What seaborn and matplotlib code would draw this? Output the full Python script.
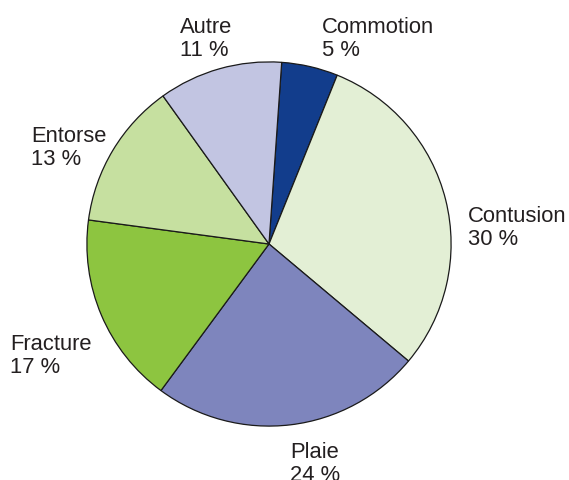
import matplotlib
matplotlib.use("Agg")
import matplotlib.pyplot as plt
import seaborn as sns

# données (pourcentages)
categories = ["Commotion", "Contusion", "Plaie", "Fracture", "Entorse", "Autre"]
values = [5, 30, 24, 17, 13, 11]
colors = ["#123d8c", "#e3efd5", "#7e85bd", "#8dc540", "#c6e0a0", "#c2c5e2"]

sns.set_theme(style="white")
plt.rcParams['font.family'] = ['Liberation Sans', 'DejaVu Sans']

W, H = 569, 481
fig = plt.figure(figsize=(W / 100, H / 100), dpi=100)

# position du camembert en pixels : centre (269, 245), rayon 183
cx, cy, r = 269, 245, 183
ax = fig.add_axes([(cx - r) / W, (H - cy - r) / H, 2 * r / W, 2 * r / H])
ax.pie(values, colors=colors, startangle=86, counterclock=False,
       wedgeprops=dict(edgecolor="#1a1a1a", linewidth=0.9))
ax.set_xlim(-1.005, 1.005)
ax.set_ylim(-1.005, 1.005)
ax.set_aspect("equal")

# étiquettes (x, y de la ligne de base en pixels, alignement)
label_pos = {
    "Autre": (180, 33, "left"),
    "Commotion": (322, 33, "left"),
    "Entorse": (31, 142, "left"),
    "Contusion": (468, 222, "left"),
    "Fracture": (10, 350, "left"),
    "Plaie": (315, 458, "center"),
}
for cat, val in zip(categories, values):
    x, y, ha = label_pos[cat]
    fig.text(x / W, 1 - y / H, cat, ha=ha, va="baseline",
             fontsize=15.8, color="#231f20")
    fig.text(x / W, 1 - (y + 23) / H, f"{val} %", ha=ha, va="baseline",
             fontsize=15.8, color="#231f20")

fig.savefig("out.png", dpi=100)
